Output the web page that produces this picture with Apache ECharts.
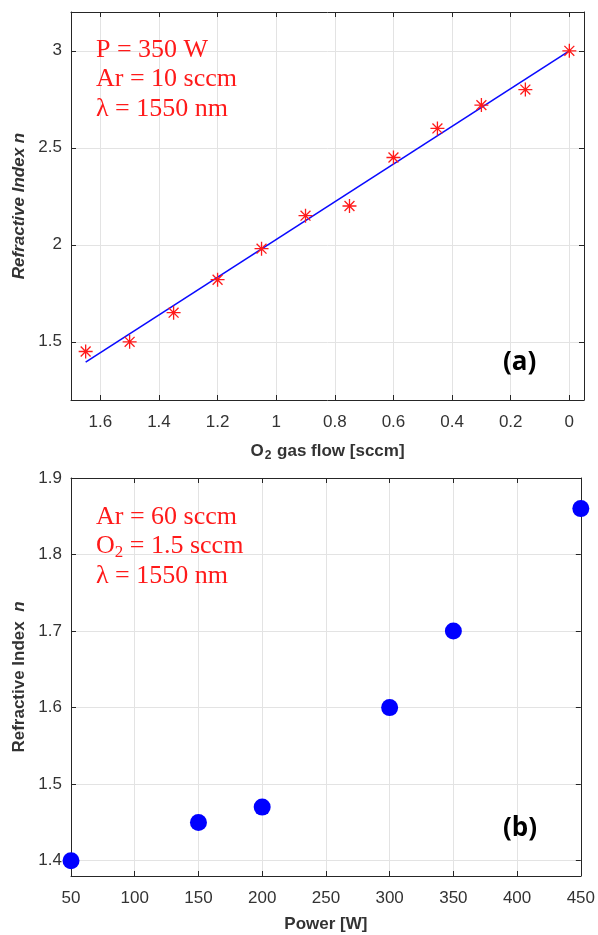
<!DOCTYPE html>
<html>
<head>
<meta charset="utf-8">
<script src="https://cdn.jsdelivr.net/npm/echarts@6/dist/echarts.min.js"></script>
<style>
  html, body { margin: 0; padding: 0; background: #ffffff; }
  #chart { width: 598px; height: 935px; }
</style>
</head>
<body>
<div id="chart"></div>
<script>
// ---- Panel (a) data ----
var o2Flow = [1.65, 1.5, 1.35, 1.2, 1.05, 0.9, 0.75, 0.6, 0.45, 0.3, 0.15, 0];
var indexA = [1.45, 1.5, 1.65, 1.82, 1.98, 2.15, 2.2, 2.45, 2.6, 2.72, 2.8, 3.0];
var fitX = [1.65, 0];
var fitY = [1.395, 3.0];
var ticksAx = [0, 0.2, 0.4, 0.6, 0.8, 1, 1.2, 1.4, 1.6];
var ticksAy = [1.5, 2, 2.5, 3];

// ---- Panel (b) data ----
var power = [50, 150, 200, 300, 350, 450];
var indexB = [1.40, 1.45, 1.47, 1.60, 1.70, 1.86];
var ticksBx = [50, 100, 150, 200, 250, 300, 350, 400, 450];
var ticksBy = [1.4, 1.5, 1.6, 1.7, 1.8, 1.9];

var AX = '#262626';
var GRID = '#e3e3e3';
var TICKFONT = { color: '#333333', fontSize: 17, fontFamily: 'Liberation Sans, Arial, sans-serif' };

function pairs(xs, ys) { return xs.map(function (x, i) { return [x, ys[i]]; }); }

function mainAxis(extra) {
  var base = {
    type: 'value',
    axisLine: { show: true, onZero: false, lineStyle: { color: AX, width: 1 } },
    axisTick: { show: true, inside: true, length: 5, lineStyle: { color: AX } },
    splitLine: { show: true, lineStyle: { color: GRID, width: 1 } },
    axisLabel: Object.assign({ margin: 9 }, TICKFONT)
  };
  return Object.assign(base, extra);
}
function boxAxis(extra) {
  var base = {
    type: 'value',
    axisLine: { show: true, onZero: false, lineStyle: { color: AX, width: 1 } },
    axisTick: { show: true, inside: true, length: 5, lineStyle: { color: AX } },
    splitLine: { show: false },
    axisLabel: { show: false }
  };
  return Object.assign(base, extra);
}

var starPath = 'path://M0,-10L0,10M-10,0L10,0M-7.07,-7.07L7.07,7.07M-7.07,7.07L7.07,-7.07';

var chart = echarts.init(document.getElementById('chart'), null, { renderer: 'canvas' });

var option = {
  backgroundColor: '#ffffff',
  animation: false,
  grid: [
    { left: 71, top: 12, width: 513, height: 388, containLabel: false },
    { left: 71, top: 478, width: 512, height: 398, containLabel: false }
  ],
  xAxis: [
    mainAxis({
      gridIndex: 0, min: -0.05, max: 1.7, inverse: true,
      axisTick: { show: true, inside: true, length: 5, lineStyle: { color: AX }, customValues: ticksAx },
      axisLabel: Object.assign({ margin: 14, customValues: ticksAx }, TICKFONT),
      name: '{b|O}{s|2}{b| gas flow [sccm]}',
      nameLocation: 'middle', nameGap: 40,
      nameTextStyle: {
        rich: {
          b: { fontSize: 17, fontWeight: 'bold', color: '#333333', fontFamily: 'Liberation Sans, Arial, sans-serif' },
          s: { fontSize: 12, fontWeight: 'bold', color: '#333333', fontFamily: 'Liberation Sans, Arial, sans-serif', padding: [10, 1, 0, 1] }
        }
      }
    }),
    boxAxis({
      gridIndex: 0, min: -0.05, max: 1.7, inverse: true, position: 'top',
      axisTick: { show: true, inside: true, length: 5, lineStyle: { color: AX }, customValues: ticksAx }
    }),
    mainAxis({
      gridIndex: 1, min: 50, max: 450, interval: 50,
      axisLabel: Object.assign({ margin: 14 }, TICKFONT),
      name: 'Power [W]', nameLocation: 'middle', nameGap: 40,
      nameTextStyle: { fontSize: 17, fontWeight: 'bold', color: '#333333', fontFamily: 'Liberation Sans, Arial, sans-serif' }
    }),
    boxAxis({ gridIndex: 1, min: 50, max: 450, interval: 50, position: 'top' })
  ],
  yAxis: [
    mainAxis({
      gridIndex: 0, min: 1.2, max: 3.2,
      axisTick: { show: true, inside: true, length: 5, lineStyle: { color: AX }, customValues: ticksAy },
      axisLabel: Object.assign({ margin: 9, customValues: ticksAy }, TICKFONT),
      name: 'Refractive Index n', nameLocation: 'middle', nameGap: 43,
      nameTextStyle: { fontSize: 17, fontWeight: 'bold', fontStyle: 'italic', color: '#333333', fontFamily: 'Liberation Sans, Arial, sans-serif' }
    }),
    boxAxis({
      gridIndex: 0, min: 1.2, max: 3.2, position: 'right',
      axisTick: { show: true, inside: true, length: 5, lineStyle: { color: AX }, customValues: ticksAy }
    }),
    mainAxis({
      gridIndex: 1, min: 1.38, max: 1.9,
      axisTick: { show: true, inside: true, length: 5, lineStyle: { color: AX }, customValues: ticksBy },
      axisLabel: Object.assign({ margin: 9, customValues: ticksBy, formatter: function (v) { return v.toFixed(1); } }, TICKFONT),
      name: '{b|Refractive Index  }{i|n}', nameLocation: 'middle', nameGap: 43,
      nameTextStyle: {
        rich: {
          b: { fontSize: 17, fontWeight: 'bold', color: '#333333', fontFamily: 'Liberation Sans, Arial, sans-serif' },
          i: { fontSize: 17, fontWeight: 'bold', fontStyle: 'italic', color: '#333333', fontFamily: 'Liberation Sans, Arial, sans-serif' }
        }
      }
    }),
    boxAxis({
      gridIndex: 1, min: 1.38, max: 1.9, position: 'right',
      axisTick: { show: true, inside: true, length: 5, lineStyle: { color: AX }, customValues: ticksBy }
    })
  ],
  series: [
    {
      type: 'line', xAxisIndex: 0, yAxisIndex: 0,
      data: pairs(fitX, fitY),
      showSymbol: false, symbol: 'none',
      lineStyle: { color: '#0a0aff', width: 1.6 },
      z: 2
    },
    {
      type: 'scatter', xAxisIndex: 0, yAxisIndex: 0,
      data: pairs(o2Flow, indexA),
      symbol: starPath, symbolSize: 14,
      itemStyle: { color: 'rgba(0,0,0,0)', borderColor: '#ff1a1a', borderWidth: 1.3, opacity: 1 },
      clip: false,
      z: 3
    },
    {
      type: 'scatter', xAxisIndex: 2, yAxisIndex: 2,
      data: pairs(power, indexB),
      symbol: 'circle', symbolSize: 17,
      itemStyle: { color: '#0000ff', opacity: 1 },
      clip: false,
      z: 3
    }
  ],
  graphic: [
    {
      type: 'text', left: 96, top: 35, z: 100,
      style: {
        text: 'P = 350 W\nAr = 10 sccm\nλ = 1550 nm',
        fill: '#ff1a1a', font: '26px "Liberation Serif", "DejaVu Serif", serif', lineHeight: 29.5
      }
    },
    {
      type: 'text', left: 96, top: 504, z: 100,
      style: {
        text: '{t|Ar = 60 sccm}\n{t|O}{s|2}{t| = 1.5 sccm}\n{t|λ = 1550 nm}',
        rich: {
          t: { fill: '#ff1a1a', fontSize: 26, fontFamily: '"Liberation Serif", "DejaVu Serif", serif', lineHeight: 29.5 },
          s: { fill: '#ff1a1a', fontSize: 17, fontFamily: '"Liberation Serif", "DejaVu Serif", serif', lineHeight: 29.5, padding: [12, 0, 0, 0] }
        }
      }
    },
    {
      type: 'text', left: 503, top: 350, z: 100,
      style: { text: '(a)', fill: '#000000', font: 'bold 26px "Open Sans", "Liberation Sans", sans-serif' }
    },
    {
      type: 'text', left: 503, top: 816, z: 100,
      style: { text: '(b)', fill: '#000000', font: 'bold 26px "Open Sans", "Liberation Sans", sans-serif' }
    }
  ]
};

chart.setOption(option);
</script>
</body>
</html>
